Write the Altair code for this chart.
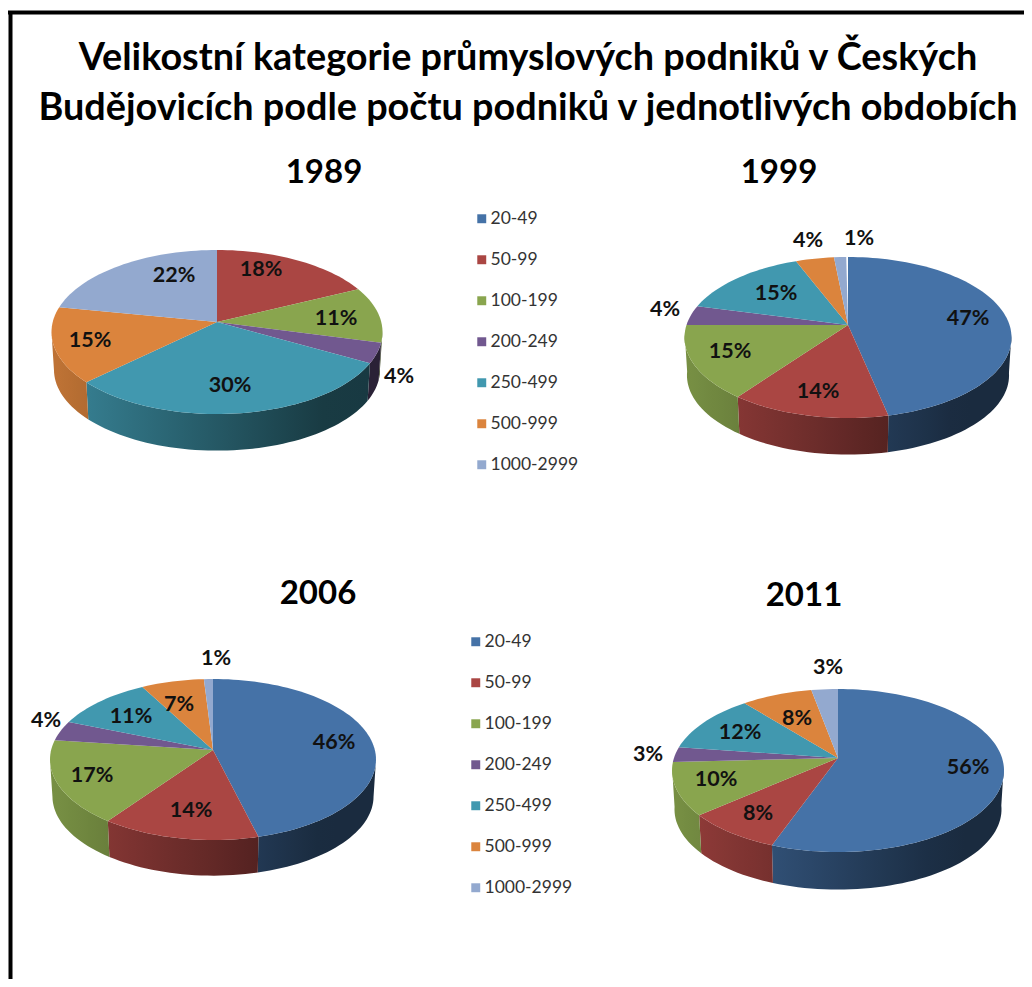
import math
import altair as alt
import pandas as pd

CATEGORIES = ["20-49", "50-99", "100-199", "200-249", "250-499", "500-999", "1000-2999"]
COLORS = ["#4572A7", "#AA4643", "#89A54E", "#71588F", "#4198AF", "#DB843D", "#93A9CF"]
YEARS = ["1989", "1999", "2006", "2011"]
SHARES = {
    "1989": [0, 18, 11, 4, 30, 15, 22],
    "1999": [46.6, 13.6, 14.8, 4, 15, 4.4, 1.4],
    "2006": [46, 14, 17, 4, 11, 7, 1],
    "2011": [55.6, 8.2, 10.4, 3, 11.8, 8, 3],
}
TITLE = ["Velikostní kategorie průmyslových podniků v Českých",
         "Budějovicích podle počtu podniků v jednotlivých obdobích"]

# layout, in page pixels: apex x, apex y, half width, far and near half depth, wall height
GEOM = {
    "1989": (217, 322, 165.5, 72, 92, 38),
    "1999": (848, 325, 163.5, 68, 93, 38),
    "2006": (213, 750, 163.0, 71, 90, 37),
    "2011": (838, 758, 166.0, 69, 94, 39),
}
YEAR_POS = {"1989": (324, 173), "1999": (779, 173), "2006": (318, 594), "2011": (804, 596)}
LABEL_POS = {
    "1989": [None, (261, 270), (336, 319), (399, 377), (230, 386), (90, 341), (174, 276)],
    "1999": [(968, 319), (818, 392), (730, 352), (665, 310), (776, 294), (808, 241), (859, 239)],
    "2006": [(334, 743), (191, 811), (92, 776), (46, 721), (131, 717), (179, 705), (216, 659)],
    "2011": [(968, 768), (758, 814), (716, 780), (648, 755), (740, 733), (797, 719), (828, 668)],
}
FONT = "Lato"


def project(year, angle, radius=1.0, drop=0.0):
    cx, cy, rx, far, near, h = GEOM[year]
    a = (near - far) / (near + far)
    b = far * (1 + a)
    c = rx * math.sqrt(1 - a * a)
    u, v = radius * math.sin(angle), -radius * math.cos(angle)
    w = 1 - a * v
    s = 1 - 0.015 * drop
    return cx + s * c * u / w, cy + s * b * v / w + h * drop


def shade(hex_color, t):
    factor = min(0.87, max(0.38, 0.58 - 0.3 * t))
    r, g, b = (int(hex_color[i:i + 2], 16) for i in (1, 3, 5))
    return "#%02x%02x%02x" % (int(r * factor), int(g * factor), int(b * factor))


LEFT, TOP, W, H = 8, 130, 1016, 849
xs = alt.Scale(domain=[LEFT, LEFT + W], range=[0, W])
ys = alt.Scale(domain=[TOP, TOP + H], range=[0, H])
X = alt.X("x:Q", scale=xs, axis=None)
Y = alt.Y("y:Q", scale=ys, axis=None)

tops, labels, wall_layers = [], [], []
for year in YEARS:
    start = 0.0
    half = GEOM[year][2]
    cx = GEOM[year][0]
    for cat, col, share, pos in zip(CATEGORIES, COLORS, SHARES[year], LABEL_POS[year]):
        if share == 0:
            continue
        end = start + share / 100 * 2 * math.pi
        n = max(2, int((end - start) / math.radians(2)))
        angles = [start + (end - start) * i / n for i in range(n + 1)]
        pid = f"{year}-{cat}"
        ring = [project(year, 0, 0)] + [project(year, t) for t in angles] + [project(year, 0, 0)]
        for i, (x, y) in enumerate(ring):
            tops.append(dict(year=year, slice=pid, cat=cat, i=i, x=x, y=y))
        front = [t for t in angles if math.cos(t) <= -0.1]
        if len(front) >= 2:
            outline = [project(year, t) for t in front] + [project(year, t, drop=1) for t in reversed(front)]
            outline.append(outline[0])
            poly = pd.DataFrame([dict(i=i, x=x, y=y) for i, (x, y) in enumerate(outline)])
            x0, x1 = poly.x.min(), poly.x.max()
            stops = [
                alt.GradientStop(offset=k / 6, color=shade(col, (x0 + (x1 - x0) * k / 6 - cx) / half))
                for k in range(7)
            ]
            wall_layers.append(
                alt.Chart(poly).mark_line(
                    filled=True, strokeWidth=0, interpolate="linear",
                    fill=alt.Gradient(gradient="linear", x1=0, x2=1, y1=0, y2=0, stops=stops),
                ).encode(x=X, y=Y, order="i:Q")
            )
        labels.append(dict(x=pos[0], y=pos[1], text=f"{round(share)}%"))
        start = end

df_tops = pd.DataFrame(tops)
df_labels = pd.DataFrame(labels)
df_years = pd.DataFrame([dict(x=p[0], y=p[1], text=y) for y, p in YEAR_POS.items()])


def top_layer(years, lx, ly):
    return alt.Chart(df_tops[df_tops.year.isin(years)]).mark_line(
        filled=True, strokeWidth=0, interpolate="linear"
    ).encode(
        x=X, y=Y, order="i:Q", detail="slice:N",
        fill=alt.Fill(
            "cat:N",
            scale=alt.Scale(domain=CATEGORIES, range=COLORS),
            legend=alt.Legend(
                title=None, orient="none", legendX=lx, legendY=ly,
                symbolType="square", symbolSize=80, symbolStrokeWidth=0,
                labelFont=FONT, labelFontSize=17.5, labelColor="#333333",
                labelOffset=0, rowPadding=22, labelLimit=150,
            ),
        ),
    )


labels_layer = alt.Chart(df_labels).mark_text(
    font=FONT, fontSize=21.5, color="#111111", fontWeight="bold"
).encode(x=X, y=Y, text="text:N")
years_layer = alt.Chart(df_years).mark_text(
    font=FONT, fontSize=33, fontWeight="bold", color="#000000"
).encode(x=X, y=Y, text="text:N")

frame = pd.DataFrame({"x": [10.5, 8], "y": [12, 12.5], "x2": [10.5, 1024], "y2": [979, 12.5]})
frame_layer = alt.Chart(frame).mark_rule(color="#000000", strokeWidth=4).encode(
    x=alt.X("x:Q", scale=xs, axis=None), x2="x2:Q",
    y=alt.Y("y:Q", scale=ys, axis=None), y2="y2:Q",
)

chart = alt.layer(
    frame_layer,
    *wall_layers,
    top_layer(["1989", "1999"], 465, 80),
    top_layer(["2006", "2011"], 459, 503),
    labels_layer,
    years_layer,
).resolve_scale(fill="independent").properties(
    width=W, height=H,
    padding={"left": 0, "top": TOP - 8, "right": 0, "bottom": 0},
    autosize=alt.AutoSizeParams(type="none"),
    title=alt.TitleParams(
        text=TITLE, font=FONT, fontSize=37.8, fontWeight="bold", color="#000000",
        anchor="middle", lineHeight=50, dx=12, dy=122,
    ),
).configure_view(stroke=None)

chart.save("out.html", embed_options={"renderer": "svg", "actions": False})
